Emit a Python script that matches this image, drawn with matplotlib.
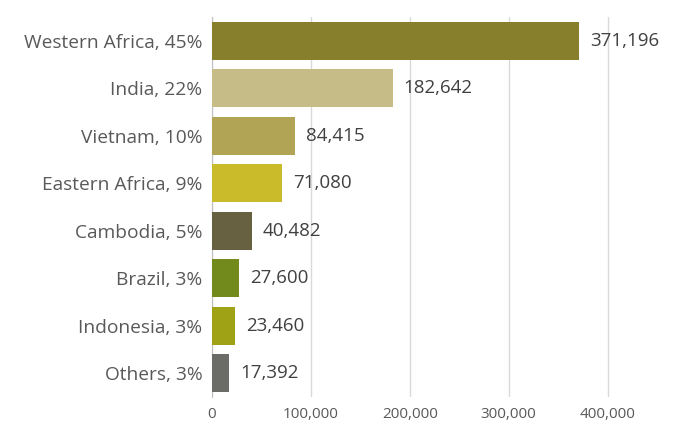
import matplotlib.pyplot as plt
from matplotlib.ticker import FuncFormatter

# data
labels = ['Western Africa, 45%', 'India, 22%', 'Vietnam, 10%', 'Eastern Africa, 9%',
          'Cambodia, 5%', 'Brazil, 3%', 'Indonesia, 3%', 'Others, 3%']
values = [371196, 182642, 84415, 71080, 40482, 27600, 23460, 17392]
colors = ['#877f2c', '#c5bc88', '#b2a455', '#c9bb2a', '#676142', '#72891c', '#a0a216', '#6b6b68']

plt.rcParams['font.family'] = ['Open Sans', 'DejaVu Sans']

fig = plt.figure(figsize=(6.78, 4.25), dpi=100)
ax = fig.add_axes([212 / 678, (425 - 397) / 425, (657 - 212) / 678, (397 - 17) / 425])

y = range(len(values))
ax.barh(y, values, height=0.8, color=colors, zorder=3)
ax.set_ylim(len(values) - 0.5, -0.5)
ax.set_xlim(0, 450000)

for i, v in enumerate(values):
    ax.text(v + 11000, i, f'{v:,}', va='center', ha='left', fontsize=13.5, color='#404040')

ax.set_yticks(list(y))
ax.set_yticklabels(labels, fontsize=13.8, color='#595959')
ax.set_xticks([0, 100000, 200000, 300000, 400000])
ax.xaxis.set_major_formatter(FuncFormatter(lambda x, p: f'{int(x):,}'))
ax.tick_params(axis='x', labelsize=11, labelcolor='#595959', length=0, pad=7)
ax.tick_params(axis='y', length=0, pad=7)

ax.grid(axis='x', color='#d9d9d9', linewidth=1, zorder=0)
for s in ['top', 'right', 'bottom']:
    ax.spines[s].set_visible(False)
ax.spines['left'].set_color('#bfbfbf')

fig.savefig('out.png', dpi=100)
